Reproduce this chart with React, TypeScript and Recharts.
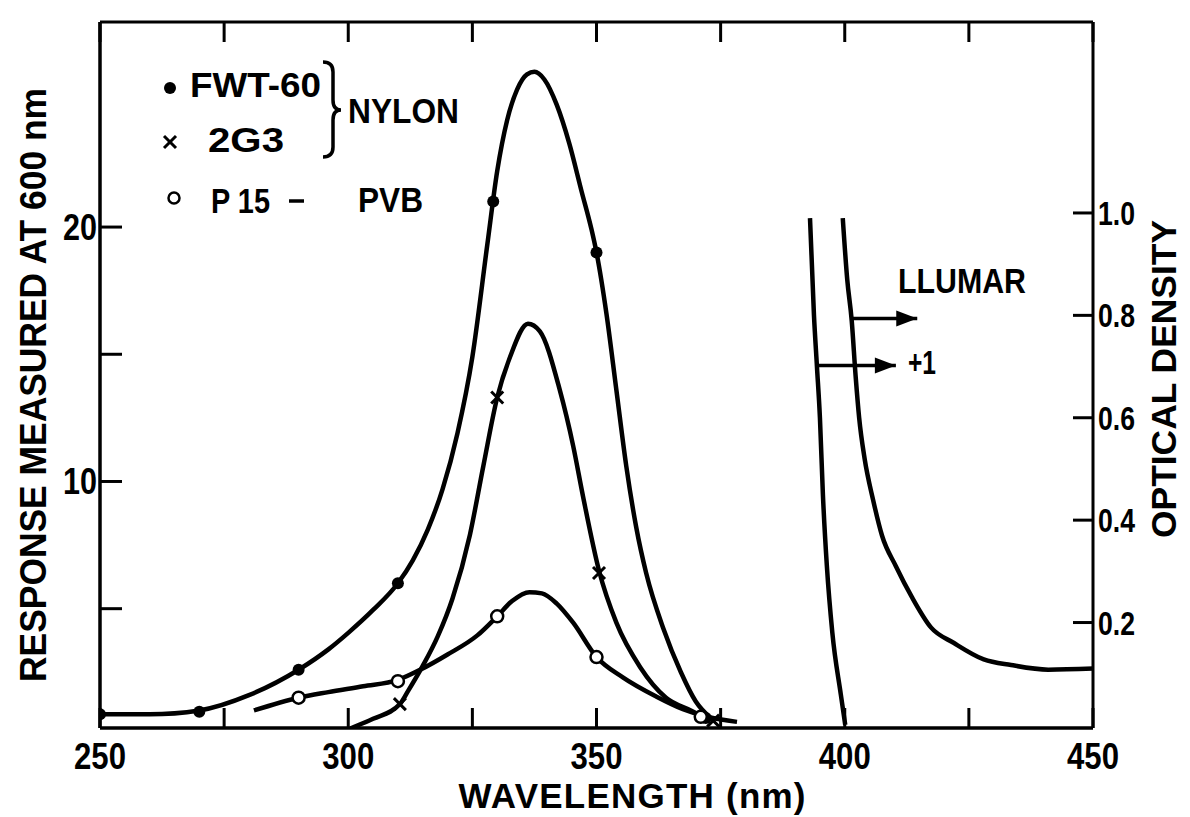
import React from "react";
import { ComposedChart, Line, Scatter, XAxis, YAxis } from "recharts";

// wavelength (nm) vs response measured at 600 nm
const fwtCurve = [
  [250, 0.85], [260, 0.85], [270, 1.0], [280, 1.6], [290, 2.6], [296, 3.4], [300, 4.05],
  [305, 4.95], [310, 6.0], [313, 6.9], [316, 8.1], [319, 9.7], [322, 11.9], [325, 14.9],
  [328, 19.3], [330, 22.2], [332, 24.2], [334, 25.4], [336, 26.0], [337.5, 26.1],
  [339.5, 25.8], [342, 24.8], [344.5, 23.3], [347, 21.4], [349, 19.9], [350, 19.0],
  [352, 16.6], [354, 13.6], [356, 10.6], [358, 8.2], [360, 6.4], [363.5, 4.2], [367, 2.5],
  [370, 1.35], [373, 0.7],
];
const fwtPoints = [[250, 0.85], [270, 0.95], [290, 2.6], [310, 6.0], [329.2, 21.0], [350, 19.0], [372, 0.7]];

const g3Curve = [
  [300.5, 0.3], [305, 0.67], [310.4, 1.25], [312, 1.75], [315, 2.75], [318, 3.9], [321, 5.4],
  [324.5, 7.9], [327.2, 10.6], [330, 13.3], [332.6, 14.9], [336.2, 16.2], [338.6, 15.9],
  [342.6, 13.6], [345.3, 11.4], [347.3, 9.4], [350.5, 6.5], [354, 4.45], [358.8, 2.7],
  [364, 1.5], [369, 1.0], [373, 0.6],
];
const g3Points = [[310.4, 1.25], [330, 13.3], [350.5, 6.4], [373.5, 0.6]];

const pvbCurve = [
  [281, 1.0], [290, 1.5], [296, 1.72], [303, 1.95], [310, 2.2], [314.5, 2.6], [320, 3.2],
  [326, 3.95], [330, 4.7], [333, 5.3], [336.5, 5.65], [339, 5.6], [342, 5.2], [345.3, 4.45],
  [350, 3.1], [355.3, 2.3], [362, 1.55], [367.4, 1.05], [372.3, 0.75], [378.3, 0.55],
];
const pvbPoints = [[290, 1.5], [310, 2.15], [330, 4.7], [350, 3.1], [371, 0.75]];

// optical density (right axis)
const llumarCurve = [
  [399.6, 0.99], [400.5, 0.87], [401.4, 0.79], [402.2, 0.68], [402.9, 0.6], [404, 0.52],
  [405.7, 0.44], [407.5, 0.37], [410.3, 0.31], [413.5, 0.25], [417.4, 0.19], [422, 0.16],
  [428, 0.128], [433.5, 0.117], [441, 0.108], [450, 0.11],
];
const plusOneCurve = [
  [393.0, 0.99], [393.8, 0.8], [394.4, 0.7], [395.0, 0.6], [395.6, 0.45], [396.4, 0.31],
  [397.5, 0.18], [399.2, 0.06], [400.1, 0.0],
];
const llumarArrow = [[401.5, 0.794], [414.6, 0.794]];
const plusOneArrow = [[394.8, 0.702], [410.3, 0.702]];

const waveTicks = [250, 275, 300, 325, 350, 375, 400, 425, 450];
const respTicks = [5, 10, 15, 20];
const respLabels = [10, 20];
const odTicks = [0.2, 0.4, 0.6, 0.8, 1.0];

const toXY = (arr: number[][]) => arr.map(([x, y]) => ({ x, y }));

const FONT = "'Liberation Sans', 'DejaVu Sans', Arial, sans-serif";
const INK = "#000";

const BottomTick = (props: any) => {
  const { x, y, payload } = props;
  const v = payload.value;
  return (
    <g>
      <line x1={x} y1={y} x2={x} y2={y - 20} stroke={INK} strokeWidth={3} />
      {v % 50 === 0 && (
        <text x={x} y={y + 41} textAnchor="middle" fontFamily={FONT} fontWeight="bold" fontSize={36}
          textLength={52} lengthAdjust="spacingAndGlyphs" fill={INK}>{v}</text>
      )}
    </g>
  );
};

const TopTick = (props: any) => {
  const { x, y } = props;
  return <line x1={x} y1={y} x2={x} y2={y + 20} stroke={INK} strokeWidth={3} />;
};

const LeftTick = (props: any) => {
  const { x, y, payload } = props;
  const v = payload.value;
  return (
    <g>
      <line x1={x} y1={y} x2={x + 22} y2={y} stroke={INK} strokeWidth={3} />
      {respLabels.includes(v) && (
        <text x={x - 3} y={y + 13} textAnchor="end" fontFamily={FONT} fontWeight="bold" fontSize={36}
          textLength={34} lengthAdjust="spacingAndGlyphs" fill={INK}>{v}</text>
      )}
    </g>
  );
};

const RightTick = (props: any) => {
  const { x, y, payload } = props;
  return (
    <g>
      <line x1={x} y1={y} x2={x - 20} y2={y} stroke={INK} strokeWidth={3} />
      <text x={x + 5} y={y + 12} textAnchor="start" fontFamily={FONT} fontWeight="bold" fontSize={33}
        textLength={37} lengthAdjust="spacingAndGlyphs" fill={INK}>{payload.value.toFixed(1)}</text>
    </g>
  );
};

const dotShape = (p: any) => <circle cx={p.cx} cy={p.cy} r={6} fill={INK} />;
const openShape = (p: any) => <circle cx={p.cx} cy={p.cy} r={6} fill="#fff" stroke={INK} strokeWidth={2.5} />;
const crossShape = (p: any) => (
  <g stroke={INK} strokeWidth={3}>
    <line x1={p.cx - 6} y1={p.cy - 6} x2={p.cx + 6} y2={p.cy + 6} />
    <line x1={p.cx - 6} y1={p.cy + 6} x2={p.cx + 6} y2={p.cy - 6} />
  </g>
);
const arrowHead = (p: any) =>
  p.index === 1 ? (
    <path key={`ah-${p.index}`} d={`M${p.cx - 21},${p.cy - 8} L${p.cx},${p.cy} L${p.cx - 21},${p.cy + 8} Z`} fill={INK} />
  ) : (
    <g key={`ah-${p.index}`} />
  );

export default function App() {
  const curveProps = {
    type: "monotone" as const,
    dataKey: "y",
    stroke: INK,
    strokeWidth: 4.5,
    dot: false,
    activeDot: false,
    isAnimationActive: false,
  };
  return (
    <div style={{ position: "absolute", left: 0, top: 0, width: 1190, height: 817, background: "#fff" }}>
      <ComposedChart width={1190} height={817} margin={{ top: 2, right: 37, bottom: 29, left: 40 }}>
        <XAxis xAxisId="top" orientation="top" dataKey="x" type="number" domain={[250, 450]} allowDataOverflow
          ticks={waveTicks} interval={0} height={20} tickSize={0} tickMargin={0}
          axisLine={{ stroke: INK, strokeWidth: 3 }} tickLine={false} tick={<TopTick />} />
        <XAxis dataKey="x" type="number" domain={[250, 450]} allowDataOverflow ticks={waveTicks} interval={0}
          height={60} tickSize={0} tickMargin={0} axisLine={{ stroke: INK, strokeWidth: 3.5 }} tickLine={false}
          tick={<BottomTick />} />
        <YAxis yAxisId="left" type="number" domain={[0.31, 28.06]} allowDataOverflow ticks={respTicks} interval={0}
          width={60} tickSize={0} tickMargin={0} axisLine={{ stroke: INK, strokeWidth: 3.5 }} tickLine={false}
          tick={<LeftTick />} />
        <YAxis yAxisId="right" orientation="right" type="number" domain={[-0.006, 1.373]} allowDataOverflow
          ticks={odTicks} interval={0} width={60} tickSize={0} tickMargin={0}
          axisLine={{ stroke: INK, strokeWidth: 3 }} tickLine={false} tick={<RightTick />} />

        <Line {...curveProps} yAxisId="left" data={toXY(fwtCurve)} />
        <Line {...curveProps} yAxisId="left" data={toXY(g3Curve)} />
        <Line {...curveProps} yAxisId="left" data={toXY(pvbCurve)} />
        <Line {...curveProps} yAxisId="right" data={toXY(llumarCurve)} />
        <Line {...curveProps} yAxisId="right" data={toXY(plusOneCurve)} />
        <Line type="linear" dataKey="y" yAxisId="right" data={toXY(llumarArrow)} stroke={INK} strokeWidth={3.5}
          dot={arrowHead} activeDot={false} isAnimationActive={false} />
        <Line type="linear" dataKey="y" yAxisId="right" data={toXY(plusOneArrow)} stroke={INK} strokeWidth={3.5}
          dot={arrowHead} activeDot={false} isAnimationActive={false} />

        <Scatter yAxisId="left" data={toXY(fwtPoints)} dataKey="y" shape={dotShape} isAnimationActive={false} />
        <Scatter yAxisId="left" data={toXY(g3Points)} dataKey="y" shape={crossShape} isAnimationActive={false} />
        <Scatter yAxisId="left" data={toXY(pvbPoints)} dataKey="y" shape={openShape} isAnimationActive={false} />
      </ComposedChart>

      <svg width={1190} height={817} style={{ position: "absolute", left: 0, top: 0, pointerEvents: "none" }}
        fontFamily={FONT} fontWeight="bold" fill={INK}>
        <text transform="translate(46,385) rotate(-90)" textAnchor="middle" fontSize={37} textLength={594}
          lengthAdjust="spacingAndGlyphs">RESPONSE MEASURED AT 600 nm</text>
        <text transform="translate(1176,379) rotate(-90)" textAnchor="middle" fontSize={35} textLength={318}
          lengthAdjust="spacingAndGlyphs">OPTICAL DENSITY</text>
        <text x={632} y={808} textAnchor="middle" fontSize={35} textLength={347}>WAVELENGTH (nm)</text>

        <circle cx={170} cy={88} r={6} fill={INK} />
        <text x={190} y={97} fontSize={35} textLength={131} lengthAdjust="spacingAndGlyphs">FWT-60</text>
        <g stroke={INK} strokeWidth={3}>
          <line x1={164} y1={136} x2={176} y2={148} />
          <line x1={164} y1={148} x2={176} y2={136} />
        </g>
        <text x={208} y={152} fontSize={35} textLength={76} lengthAdjust="spacingAndGlyphs">2G3</text>
        <circle cx={174} cy={198} r={5.5} fill="#fff" stroke={INK} strokeWidth={2.5} />
        <text x={211} y={213} fontSize={35} textLength={59} lengthAdjust="spacingAndGlyphs">P 15</text>
        <line x1={289} y1={201} x2={304} y2={201} stroke={INK} strokeWidth={3.5} />
        <text x={358} y={212} fontSize={35} textLength={65} lengthAdjust="spacingAndGlyphs">PVB</text>
        <path d="M323,62 Q333,62 333,72 L333,100 Q333,110 341,110 Q333,110 333,120 L333,147 Q333,157 323,157"
          fill="none" stroke={INK} strokeWidth={3.5} />
        <text x={348} y={123} fontSize={35} textLength={111} lengthAdjust="spacingAndGlyphs">NYLON</text>

        <text x={898} y={293} fontSize={35} textLength={128} lengthAdjust="spacingAndGlyphs">LLUMAR</text>
        <text x={908} y={374} fontSize={33} textLength={28} lengthAdjust="spacingAndGlyphs">+1</text>
      </svg>
    </div>
  );
}
